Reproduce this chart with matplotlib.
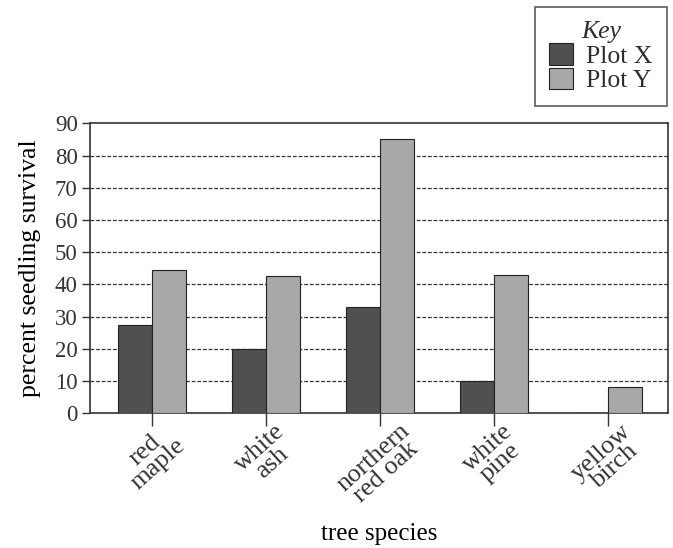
import matplotlib.pyplot as plt
import numpy as np

# Data
species = ["red\nmaple", "white\nash", "northern\nred oak", "white\npine", "yellow\nbirch"]
plot_x = [27.5, 20, 33, 10, 0]
plot_y = [44.5, 42.5, 85, 43, 8]
y_ticks = [0, 10, 20, 30, 40, 50, 60, 70, 80, 90]

plt.rcParams['font.family'] = ['Liberation Serif', 'DejaVu Serif']
plt.rcParams['text.color'] = '#2e2e2e'

fig = plt.figure(figsize=(6.73, 5.48), dpi=100)
ax = fig.add_axes([0.134, 0.246, 0.859, 0.529])

x = np.arange(len(species))
w = 0.298
ax.bar(x - w / 2, plot_x, w, color='#505053', edgecolor='#222222', linewidth=0.8,
       label='Plot X', zorder=3)
ax.bar(x + w / 2, plot_y, w, color='#a8a8a8', edgecolor='#222222', linewidth=0.8,
       label='Plot Y', zorder=3)

# Dashed grid lines
for v in y_ticks[1:-1]:
    ax.axhline(v, color='#333333', linestyle=(0, (3, 1.5)), linewidth=0.9, zorder=1)

ax.set_xlim(-0.54, 4.53)
ax.set_ylim(0, 90)
ax.set_yticks(y_ticks)
ax.set_xticks(x)
ax.set_xticklabels(species, rotation=42, ha='center', va='top', multialignment='center',
                   fontsize=19, linespacing=0.85)
ax.tick_params(axis='y', labelsize=16.5, direction='out', length=6, width=1, colors='#333333', pad=3)
ax.tick_params(axis='x', direction='out', length=9, width=1, colors='#333333', pad=-4)

for s in ax.spines.values():
    s.set_color('#333333')
    s.set_linewidth(1.2)

ax.set_ylabel("percent seedling survival", fontsize=18.5, labelpad=10)
ax.set_xlabel("tree species", fontsize=18, labelpad=9)

leg = fig.legend(loc='upper right', bbox_to_anchor=(0.991, 0.987), borderaxespad=0,
                 title='Key', fontsize=18.5, title_fontsize=18.5, frameon=True, fancybox=False,
                 handlelength=0.95, handleheight=0.9, handletextpad=0.5, labelspacing=0.0,
                 borderpad=0.55)
leg.get_title().set_fontstyle('italic')
leg.get_frame().set_edgecolor('#333333')
leg.get_frame().set_linewidth(1.2)

fig.savefig("out.png", dpi=100)
